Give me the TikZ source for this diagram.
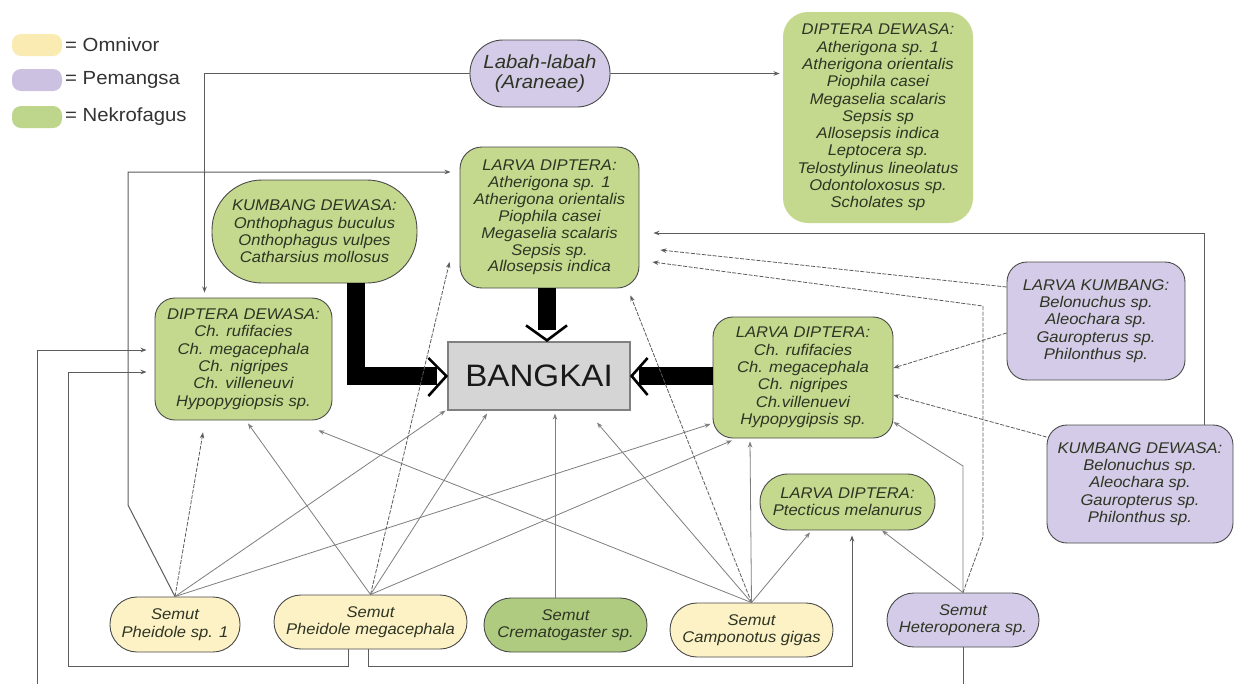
\documentclass[tikz,border=0pt]{standalone}
\usepackage{fontspec}
\setmainfont[FakeStretch=1.07]{Liberation Sans}
\usetikzlibrary{arrows.meta,calc}
\definecolor{gfill}{HTML}{C4D98E}
\definecolor{gdark}{HTML}{AECB80}
\definecolor{pfill}{HTML}{D3CBE7}
\definecolor{yfill}{HTML}{FCF2C6}
\definecolor{bkfill}{HTML}{D5D5D5}
\definecolor{bordc}{HTML}{4A4A4A}
\definecolor{linec}{HTML}{7E7E7E}
\definecolor{routec}{HTML}{5C5C5C}
\definecolor{txtc}{HTML}{2F3524}
\definecolor{legy}{HTML}{FAEBB2}
\definecolor{legp}{HTML}{CDC1E2}
\definecolor{legg}{HTML}{BDD68B}
\begin{document}
\begin{tikzpicture}[x=1pt,y=-1pt,
 box/.style={draw=bordc,line width=0.9pt,align=center,inner sep=0pt,text=txtc,font=\itshape\fontsize{15.5}{17.4}\selectfont},
 gbox/.style={box,fill=gfill},
 pbox/.style={box,fill=pfill},
 ybox/.style={box,fill=yfill},
 arr/.style={draw=linec,line width=0.8pt,-{Stealth[length=6pt,width=4.5pt]}},
 dsh/.style={arr,draw=routec,dash pattern=on 4pt off 1.5pt},
 route/.style={draw=routec,line width=1pt,-{Stealth[length=6pt,width=4.5pt]}},
 bar/.style={draw=black,line width=18pt,line join=miter},
 chev/.style={draw=black,line width=2.6pt,line join=miter},
 swatch/.style={draw=none,minimum width=50pt,minimum height=22pt,rounded corners=9pt,inner sep=0pt},
 legtext/.style={anchor=west,inner sep=0pt,text=black!80,font=\fontsize{19}{21}\selectfont}
]
\useasboundingbox (0,0) rectangle (1234,683);
\fill[white] (0,0) rectangle (1234,683);

% legend
\node[swatch,fill=legy] (sy) at (37,45) {};
\node[legtext] (ty) at (65,45) {= Omnivor};
\node[swatch,fill=legp] (sp) at (37,80) {};
\node[legtext] (tp) at (65,80) {= Pemangsa};
\node[swatch,fill=legg] (sg) at (37,117) {};
\node[legtext] (tg) at (65,117) {= Nekrofagus};

% nodes
\node[pbox,rounded corners=33pt,minimum width=140pt,minimum height=67pt,font=\itshape\fontsize{19}{20.5}\selectfont] (lab) at (540,73.5) {Labah-labah\\(Araneae)};
\node[gbox,draw=none,rounded corners=25pt,minimum width=190pt,minimum height=211pt,font=\itshape\fontsize{15.5}{17.3}\selectfont] (ddr) at (878,117.5) {DIPTERA DEWASA:\\Atherigona sp. 1\\Atherigona orientalis\\Piophila casei\\Megaselia scalaris\\Sepsis sp\\Allosepsis indica\\Leptocera sp.\\Telostylinus lineolatus\\Odontoloxosus sp.\\Scholates sp};
\node[gbox,rounded corners=22pt,minimum width=179pt,minimum height=141pt,font=\itshape\fontsize{15.5}{16.9}\selectfont] (ldt) at (549.5,217.5) {LARVA DIPTERA:\\Atherigona sp. 1\\Atherigona orientalis\\Piophila casei\\Megaselia scalaris\\Sepsis sp.\\Allosepsis indica};
\node[gbox,rounded corners=50pt,minimum width=205pt,minimum height=103pt] (kdl) at (314.5,231.5) {KUMBANG DEWASA:\\Onthophagus buculus\\Onthophagus vulpes\\Catharsius mollosus};
\node[gbox,rounded corners=20pt,minimum width=177pt,minimum height=122pt] (ddl) at (243.5,359) {DIPTERA DEWASA:\\Ch. rufifacies\\Ch. megacephala\\Ch. nigripes\\Ch. villeneuvi\\Hypopygiopsis sp.};
\node[draw=black!50,fill=bkfill,line width=1.2pt,minimum width=182pt,minimum height=68pt,inner sep=0pt,text=black!90,font=\fontsize{31}{31}\selectfont] (bk) at (539,376) {BANGKAI};
\node[gbox,rounded corners=20pt,minimum width=180pt,minimum height=121pt] (ldr) at (803,377.5) {LARVA DIPTERA:\\Ch. rufifacies\\Ch. megacephala\\Ch. nigripes\\Ch.villenuevi\\Hypopygipsis sp.};
\node[pbox,rounded corners=20pt,minimum width=178pt,minimum height=118pt] (lk) at (1096,321) {LARVA KUMBANG:\\Belonuchus sp.\\Aleochara sp.\\Gauropterus sp.\\Philonthus sp.};
\node[pbox,rounded corners=20pt,minimum width=186pt,minimum height=118pt] (kdr) at (1140,484) {KUMBANG DEWASA:\\Belonuchus sp.\\Aleochara sp.\\Gauropterus sp.\\Philonthus sp.};
\node[gbox,rounded corners=28pt,minimum width=175pt,minimum height=56pt] (ldp) at (847.5,502) {LARVA DIPTERA:\\Ptecticus melanurus};
\node[pbox,rounded corners=27pt,minimum width=152pt,minimum height=54pt] (sh) at (963,620) {Semut\\Heteroponera sp.};
\node[ybox,rounded corners=27pt,minimum width=130pt,minimum height=55pt] (sp1) at (175,624.5) {Semut\\Pheidole sp. 1};
\node[ybox,rounded corners=27pt,minimum width=193pt,minimum height=54pt] (spm) at (370.5,622) {Semut\\Pheidole megacephala};
\node[box,fill=gdark,rounded corners=27pt,minimum width=163pt,minimum height=54pt] (scr) at (565.5,625) {Semut\\Crematogaster sp.};
\node[ybox,rounded corners=27pt,minimum width=163pt,minimum height=54pt] (scg) at (751.5,630) {Semut\\Camponotus gigas};

% routing points
\coordinate (c1) at (128,505);
\coordinate (c2) at (68,666);
\coordinate (c3) at (852,666);
\coordinate (c4) at (983,537);
\coordinate (c5) at (983,306);
\coordinate (c6) at (963,466);
\coordinate (c7) at (963,684);
\coordinate (c8) at (37,684);

% thick arrows into BANGKAI
\draw[bar] ([xshift=41.5pt]kdl.south) |- ([xshift=-10pt]bk.west);
\draw[bar] ([xshift=-2.5pt]ldt.south) -- ([xshift=8pt,yshift=11pt]bk.north);
\draw[bar] (ldr.west |- bk.east) -- ([xshift=8pt]bk.east);
\draw[chev] ($(bk.west)+(-19,-18)$) -- ([xshift=-1pt]bk.west) -- ($(bk.west)+(-19,20)$);
\coordinate (tt) at ([xshift=8pt,yshift=1pt]bk.north);
\draw[chev] ($(tt)+(-21,-15)$) -- (tt) -- ($(tt)+(20,-15)$);
\draw[chev] ($(bk.east)+(17,-18)$) -- ([xshift=1pt]bk.east) -- ($(bk.east)+(17,19)$);

% thin connectors
\draw[route] (sp1.north) -- (c1) |- ([xshift=-9pt,yshift=45.5pt]ldt.west);
\draw[dsh] (sp1.north) -- ([xshift=-40.5pt,yshift=-12pt]ddl.south);
\draw[arr] (sp1.north) -- ([xshift=-2pt]bk.south west);
\draw[arr] (sp1.north) -- ([xshift=-2pt,yshift=-46.5pt]ldr.west);
\draw[arr] (spm.north) -- ([xshift=4.5pt,yshift=-3pt]ddl.south);
\draw[dsh] (spm.north) -- ([xshift=-10pt,yshift=-44.5pt]ldt.west);
\draw[arr] (spm.north) -- ([xshift=-52pt,yshift=-3pt]bk.south);
\draw[arr] (spm.north) -- ([xshift=-71pt,yshift=-2pt]ldr.south);
\draw[route] ([xshift=-22.5pt]spm.south) |- (c2) |- ([xshift=-8pt,yshift=-13pt]ddl.west);
\draw[route] ([xshift=-2.5pt]spm.south) |- (c3) -- ([xshift=4.5pt,yshift=-5pt]ldp.south);
\draw[arr] ([xshift=-10.5pt]scr.north) -- ([xshift=16pt,yshift=-3pt]bk.south);
\draw[arr] (scg.north) -- ([xshift=-14pt,yshift=-10pt]ddl.south east);
\draw[arr] (scg.north) -- ([xshift=58pt,yshift=-12pt]bk.south);
\draw[dsh] (scg.north) -- ([xshift=-9pt,yshift=-7pt]ldt.south east);
\draw[arr] (scg.north) -- ([xshift=-53pt,yshift=-3pt]ldr.south);
\draw[arr] (scg.north) -- ([xshift=-37.5pt,yshift=-2pt]ldp.south);
\draw[arr] (sh.north) -- ([xshift=34.5pt]ldp.south);
\draw[arr] (sh.north) -- (c6) -- ([yshift=-44.5pt]ldr.east);
\draw[dsh] (sh.north) -- (c4) -- (c5) -- ([xshift=13pt,yshift=-44.5pt]ldt.east);
\draw[route] (sh.south) -- (c7) -- (c8) |- ([xshift=-8pt,yshift=9pt]ddl.west);
\draw[dsh] ([yshift=34pt]lk.west) -- ([xshift=21pt,yshift=-32.5pt]ldt.east);
\draw[route] ([xshift=64pt]kdr.north) |- ([xshift=14pt,yshift=-15.5pt]ldt.east);
\draw[dsh] ([yshift=-12pt]lk.west) -- ([yshift=9.5pt]ldr.east);
\draw[dsh] ([yshift=47pt]kdr.west) -- ([yshift=-17.5pt]ldr.east);
\draw[route] (lab.west) -| ([xshift=-39pt,yshift=5pt]ddl.north);
\draw[route] (lab.east) -- ($(lab.east -| ddr.west)+(-3,0)$);
\end{tikzpicture}
\end{document}
